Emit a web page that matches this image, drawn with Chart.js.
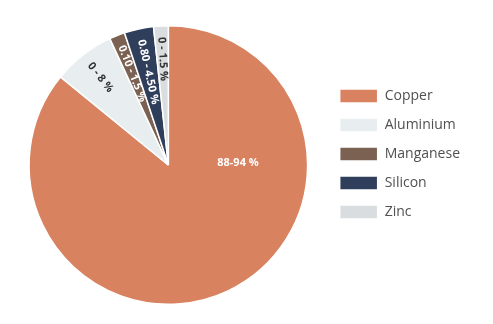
<!DOCTYPE html>
<html>
<head>
<meta charset="utf-8">
<script src="https://cdn.jsdelivr.net/npm/chart.js@4"></script>
<style>
html,body{margin:0;padding:0;background:#fff;}
#wrap{width:493px;height:324px;position:relative;}
</style>
</head>
<body>
<div id="wrap"><canvas id="c" width="493" height="324"></canvas></div>
<script>
const categories = ["Copper", "Aluminium", "Manganese", "Silicon", "Zinc"];
const values = [85.9, 7.2, 1.8, 3.4, 1.7];
const sliceLabels = ["88-94 %", "0 - 8 %", "0.10 - 1.5 %", "0.80 - 4.50 %", "0 - 1.5 %"];
const colors = ["#d8825f", "#e8eef0", "#7a6152", "#2f3e5b", "#dadddf"];
const labelColors = ["#ffffff", "#333333", "#ffffff", "#ffffff", "#333333"];

const sliceLabelPlugin = {
  id: 'sliceLabels',
  afterDatasetsDraw(chart) {
    const ctx = chart.ctx;
    const meta = chart.getDatasetMeta(0);
    ctx.save();
    ctx.font = '700 11px "Open Sans"';
    ctx.textBaseline = 'middle';
    meta.data.forEach((arc, i) => {
      const {x, y, startAngle, endAngle, outerRadius} = arc.getProps(['x','y','startAngle','endAngle','outerRadius'], true);
      ctx.fillStyle = labelColors[i];
      if (i === 0) {
        ctx.textAlign = 'center';
        ctx.fillText(sliceLabels[i], x + outerRadius * 0.5, y - 2);
      } else {
        const mid = (startAngle + endAngle) / 2;
        const r = outerRadius * 0.92;
        ctx.save();
        ctx.translate(x + Math.cos(mid) * r, y + Math.sin(mid) * r);
        ctx.rotate(mid + Math.PI);
        ctx.textAlign = 'left';
        ctx.fillText(sliceLabels[i], 0, 0);
        ctx.restore();
      }
    });
    ctx.restore();
  }
};

const legendShift = {
  id: 'legendShift',
  afterLayout(chart) {
    const lg = chart.legend;
    if (lg) { lg.top -= 11; lg.bottom -= 11; }
  }
};

new Chart(document.getElementById('c'), {
  type: 'pie',
  data: {
    labels: categories,
    datasets: [{
      data: values,
      backgroundColor: colors,
      borderColor: '#ffffff',
      borderWidth: 1.5
    }]
  },
  options: {
    responsive: false,
    animation: false,
    layout: { padding: { top: 25, bottom: 19, left: 12, right: 23 } },
    plugins: {
      tooltip: { enabled: false },
      legend: {
        position: 'right',
        labels: {
          boxWidth: 38,
          boxHeight: 14,
          padding: 15,
          color: '#505050',
          font: { family: '"Open Sans"', size: 14 }
        }
      }
    }
  },
  plugins: [sliceLabelPlugin, legendShift]
});
</script>
</body>
</html>
